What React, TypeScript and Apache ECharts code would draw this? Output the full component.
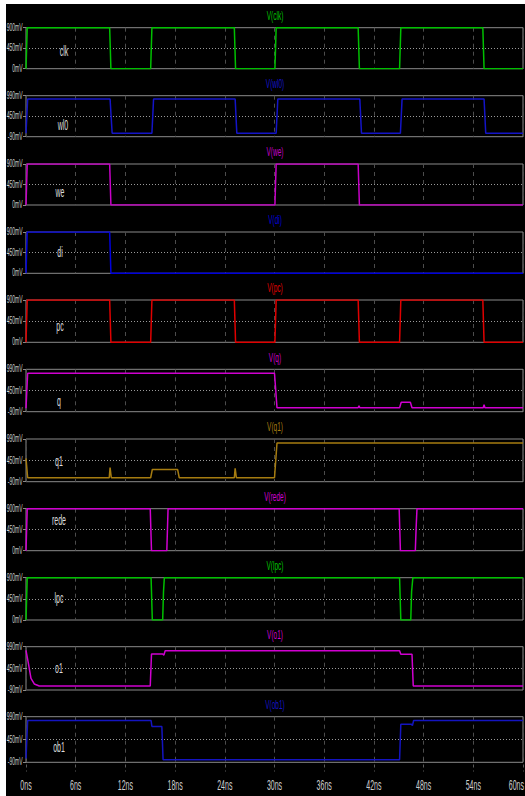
import React, { useEffect, useRef } from "react";
import * as echarts from "echarts";

// ---- time ticks (ns) ----
const timeTicks = [0, 6, 12, 18, 24, 30, 36, 42, 48, 54, 60];

// ---- signal names ----
const names = ["clk", "wl0", "we", "di", "pc", "q", "q1", "rede", "lpc", "o1", "ob1"];

// ---- y-axis tick labels (mV) ----
const ticksA = [0, 450, 900];
const ticksB = [-90, 450, 990];

// ---- waveforms: times (ns) and voltages (mV) ----
const clkT = [0, 0.15, 10.1, 10.25, 15.05, 15.2, 25.15, 25.3, 30.05, 30.2, 40.1, 40.25, 45.1, 45.25, 55.15, 55.3, 60];
const clkV = [0, 900, 900, 0, 0, 900, 900, 0, 0, 900, 900, 0, 0, 900, 900, 0, 0];

const wl0T = [0, 0.2, 10.15, 10.4, 15.2, 15.4, 25.25, 25.45, 30.2, 30.4, 40.3, 40.5, 45.2, 45.4, 55.3, 55.5, 60];
const wl0V = [0, 900, 900, 0, 0, 900, 900, 0, 0, 900, 900, 0, 0, 900, 900, 0, 0];

const weT = [0, 0.15, 10.1, 10.25, 30.05, 30.2, 40.1, 40.25, 60];
const weV = [0, 900, 900, 0, 0, 900, 900, 0, 0];

const diT = [0, 0.15, 10.1, 10.25, 60];
const diV = [0, 900, 900, 0, 0];

const pcT = [0, 0.15, 10.1, 10.25, 15.05, 15.2, 25.15, 25.3, 30.05, 30.2, 40.1, 40.25, 45.1, 45.25, 55.15, 55.3, 60];
const pcV = [0, 900, 900, 0, 0, 900, 900, 0, 0, 900, 900, 0, 0, 900, 900, 0, 0];

const qT = [0, 0.2, 30.0, 30.3, 40.1, 40.2, 40.3, 45.1, 45.3, 46.4, 46.6, 55.2, 55.3, 55.4, 60];
const qV = [0, 890, 890, 10, 10, 60, 10, 10, 150, 150, 10, 10, 90, 10, 10];

const q1T = [0, 0.2, 10.05, 10.15, 10.3, 15.05, 15.25, 18.3, 18.5, 25.15, 25.25, 25.4, 30.0, 30.3, 60];
const q1V = [500, 10, 10, 270, 10, 10, 220, 220, 10, 10, 250, 10, 10, 890, 890];

const redeT = [0, 0.15, 15.0, 15.15, 17.0, 17.15, 45.05, 45.2, 47.0, 47.1, 47.2, 60];
const redeV = [0, 900, 900, 0, 0, 900, 900, 0, 0, 500, 900, 900];

const lpcT = [0, 0.15, 15.1, 15.25, 16.5, 16.6, 16.7, 45.1, 45.25, 46.45, 46.55, 46.7, 60];
const lpcV = [0, 900, 900, 0, 0, 600, 900, 900, 0, 0, 600, 900, 900];

const o1T = [0, 0.3, 0.6, 1.0, 1.6, 15.0, 15.15, 16.5, 16.65, 16.8, 45.1, 45.25, 46.6, 46.75, 60];
const o1V = [900, 560, 200, 60, 10, 10, 810, 810, 780, 890, 890, 800, 800, 10, 10];

const ob1T = [0, 0.2, 15.1, 15.2, 16.4, 16.55, 45.1, 45.25, 46.55, 46.65, 46.8, 60];
const ob1V = [0, 900, 900, 760, 760, -30, -30, 810, 810, 780, 900, 900];

const times = [clkT, wl0T, weT, diT, pcT, qT, q1T, redeT, lpcT, o1T, ob1T];
const volts = [clkV, wl0V, weV, diV, pcV, qV, q1V, redeV, lpcV, o1V, ob1V];
const tickSets = [ticksA, ticksB, ticksA, ticksA, ticksA, ticksB, ticksB, ticksA, ticksA, ticksB, ticksB];

// ---- styling / layout ----
const colors = ["#00c000", "#1414c8", "#c800c8", "#0000dc", "#e00000", "#d000d0", "#a67c10", "#d000d0", "#00c000", "#d000d0", "#1414c0"];
const OX = 6; // chart offset on page
const OY = 4;
const CW = 525 - OX;
const panelTop = [27.7, 95.7, 164, 232, 300, 369.3, 439, 508.7, 577.7, 646.7, 716.7];
const panelBottom = [68.7, 136.7, 205, 273.3, 342.3, 411.7, 481.7, 550.7, 620, 690, 762.3];
const labelY = [51, 125, 191.5, 252, 326, 401, 461, 520, 598, 668, 747];
const labelX = [64, 63, 60, 60, 60, 59, 59, 59, 59, 59, 59];
const FONT = "'Liberation Sans', Arial, sans-serif";
const SQ = 0.5; // horizontal squeeze of texts (the reference uses a very narrow font)

export default function App() {
  const ref = useRef<HTMLDivElement>(null);
  useEffect(() => {
    if (!ref.current) return;
    const chart = echarts.init(ref.current, undefined, { renderer: "svg" });
    const n = names.length;
    const grids: any[] = [];
    const xAxes: any[] = [];
    const yAxes: any[] = [];
    const series: any[] = [];
    for (let i = 0; i < n; i++) {
      const top = panelTop[i] - OY;
      const h = panelBottom[i] - panelTop[i];
      grids.push({
        left: 26 - OX,
        width: 523 - 26,
        top,
        height: h,
        show: true,
        borderColor: "#8a8a8a",
        borderWidth: 1,
        backgroundColor: "transparent",
        containLabel: false,
        outerBoundsMode: "none",
      });
      const last = i === n - 1;
      xAxes.push({
        gridIndex: i,
        type: "value",
        min: timeTicks[0],
        max: timeTicks[timeTicks.length - 1],
        interval: timeTicks[1] - timeTicks[0],
        axisLine: { show: false },
        axisTick: { show: last, length: 13, lineStyle: { color: "#5a5a5a", type: [3, 3] } },
        axisLabel: { show: false },
        splitLine: { show: true, lineStyle: { color: "#4c4c4c", type: [4, 4], width: 1 } },
      });
      const tk = tickSets[i];
      yAxes.push({
        gridIndex: i,
        type: "value",
        min: tk[0],
        max: tk[2],
        axisLine: { show: false },
        axisTick: { show: true, length: 3, customValues: tk, lineStyle: { color: "#8a8a8a" } },
        axisLabel: { show: false },
        splitLine: { show: false },
      });
      const t = times[i];
      const v = volts[i];
      series.push({
        type: "line",
        name: names[i],
        xAxisIndex: i,
        yAxisIndex: i,
        symbol: "none",
        showSymbol: false,
        lineStyle: { color: colors[i], width: 1.5 },
        itemStyle: { color: colors[i] },
        data: t.map((tt, k) => [tt, v[k]]),
        markLine: {
          silent: true,
          symbol: "none",
          label: { show: false },
          lineStyle: { color: "#9a9a9a", type: [1, 2], width: 1 },
          data: [{ yAxis: tk[1] }],
          z: 1,
        },
      });
    }
    chart.setOption({
      animation: false,
      backgroundColor: "#000000",
      grid: grids,
      xAxis: xAxes,
      yAxis: yAxes,
      series,
    });

    // narrow texts placed through the axes' own scales
    const graphics: any[] = [];
    const yLeft = chart.convertToPixel({ xAxisIndex: 0 }, timeTicks[0]) as number;
    for (let i = 0; i < n; i++) {
      const tk = tickSets[i];
      tk.forEach((val) => {
        const py = chart.convertToPixel({ yAxisIndex: i }, val) as number;
        graphics.push({
          type: "text",
          x: yLeft - 3.5,
          y: py,
          scaleX: SQ,
          style: {
            text: val + "mV",
            fill: "#cfcfcf",
            font: "10px " + FONT,
            textAlign: "right",
            textVerticalAlign: "middle",
          },
        });
      });
      graphics.push({
        type: "text",
        x: 275 - OX,
        y: panelTop[i] - 12 - OY,
        scaleX: SQ,
        style: {
          text: "V(" + names[i] + ")",
          fill: colors[i],
          font: "13px " + FONT,
          textAlign: "center",
          textVerticalAlign: "middle",
        },
      });
      graphics.push({
        type: "text",
        x: labelX[i] - OX,
        y: labelY[i] - OY,
        scaleX: SQ,
        style: {
          text: names[i],
          fill: "#dddddd",
          font: "14px " + FONT,
          textAlign: "center",
          textVerticalAlign: "middle",
        },
      });
    }
    const lastBottom = panelBottom[n - 1] - OY;
    timeTicks.forEach((tv) => {
      const px = chart.convertToPixel({ xAxisIndex: n - 1 }, tv) as number;
      const txt = tv + "ns";
      const half = (txt.length * 7.6 * SQ) / 2;
      const x = Math.min(px, CW - half - 1);
      graphics.push({
        type: "text",
        x,
        y: lastBottom + 23,
        scaleX: SQ,
        style: {
          text: txt,
          fill: "#cfcfcf",
          font: "14px " + FONT,
          textAlign: "center",
          textVerticalAlign: "middle",
        },
      });
    });
    chart.setOption({ graphic: graphics });
    return () => chart.dispose();
  }, []);
  return (
    <div style={{ position: "absolute", left: 0, top: 0, width: 525, height: 796, background: "#ffffff" }}>
      <div ref={ref} style={{ position: "absolute", left: OX, top: OY, width: CW, height: 796 - OY }} />
    </div>
  );
}
